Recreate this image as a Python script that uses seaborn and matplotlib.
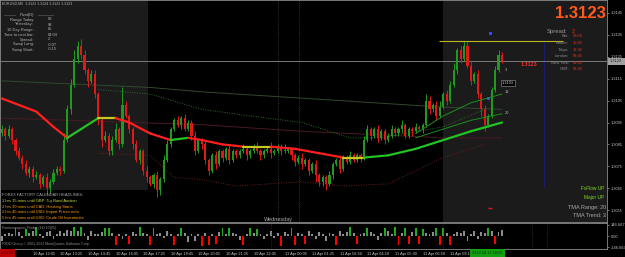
import numpy as np
import pandas as pd
import seaborn as sns
import matplotlib
matplotlib.use("Agg")
import matplotlib.pyplot as plt
from matplotlib.patches import Rectangle

# EURUSD M5 - 종가
first_open = 1.3090
closes = [
    1.3092, 1.3089, 1.3092, 1.3087, 1.3082, 1.3079, 1.3076, 1.3072, 1.3074, 1.3070,
    1.3071, 1.3067, 1.3070, 1.3065, 1.3068, 1.3072, 1.3074, 1.3073, 1.3087, 1.3101,
    1.3112, 1.3124, 1.3130, 1.3126, 1.3119, 1.3114, 1.3117, 1.3108, 1.3096, 1.3087,
    1.3089, 1.3082, 1.3087, 1.3092, 1.3085, 1.3103, 1.3098, 1.3092, 1.3085, 1.3078,
    1.3082, 1.3073, 1.3070, 1.3067, 1.3071, 1.3064, 1.3069, 1.3078, 1.3085, 1.3092,
    1.3096, 1.3094, 1.3097, 1.3092, 1.3095, 1.3089, 1.3082, 1.3087, 1.3085, 1.3078,
    1.3073, 1.3080, 1.3076, 1.3082, 1.3079, 1.3083, 1.3078, 1.3082, 1.3080, 1.3082,
    1.3083, 1.3080, 1.3082, 1.3084, 1.3082, 1.3080, 1.3082, 1.3083, 1.3081, 1.3082,
    1.3084, 1.3082, 1.3082, 1.3083, 1.3080, 1.3077, 1.3079, 1.3076, 1.3078, 1.3073,
    1.3076, 1.3071, 1.3068, 1.3070, 1.3067, 1.3071, 1.3076, 1.3078, 1.3074, 1.3079,
    1.3077, 1.3080, 1.3078, 1.3080, 1.3079, 1.3087, 1.3092, 1.3089, 1.3092, 1.3088,
    1.3091, 1.3087, 1.3089, 1.3092, 1.3090, 1.3092, 1.3094, 1.3089, 1.3092, 1.3091,
    1.3093, 1.3092, 1.3094, 1.3105, 1.3101, 1.3103, 1.3098, 1.3102, 1.3108, 1.3105,
    1.3112, 1.3119, 1.3128, 1.3124, 1.3130, 1.3121, 1.3114, 1.3117, 1.3108, 1.3101,
    1.3094, 1.3098, 1.3110, 1.3119, 1.3126, 1.3123,
]
# 꼬리 길이 (pip)
wick_up = [
    2, 1, 2, 1, 1, 2, 1, 2, 1, 1,
    2, 1, 1, 2, 1, 2, 1, 1, 3, 2,
    3, 4, 2, 3, 2, 1, 2, 2, 1, 1,
    2, 1, 2, 3, 1, 8, 2, 1, 1, 2,
    1, 1, 2, 1, 1, 2, 1, 2, 2, 1,
    1, 2, 1, 2, 1, 1, 2, 1, 1, 2,
    1, 1, 2, 1, 1, 1, 2, 1, 1, 1,
    2, 1, 1, 1, 2, 1, 1, 1, 3, 1,
    1, 1, 3, 1, 1, 1, 1, 2, 1, 1,
    1, 2, 1, 1, 1, 2, 1, 1, 2, 1,
    1, 2, 1, 1, 1, 2, 2, 1, 1, 2,
    1, 1, 1, 2, 1, 1, 2, 1, 1, 1,
    2, 1, 1, 3, 2, 1, 2, 3, 1, 2,
    2, 3, 1, 2, 2, 2, 2, 1, 2, 1,
    2, 1, 1, 2, 2, 1,
]
wick_dn = [
    1, 2, 1, 2, 2, 1, 2, 1, 2, 2,
    1, 2, 1, 3, 2, 1, 1, 2, 1, 1,
    2, 1, 2, 2, 2, 3, 1, 2, 2, 3,
    1, 2, 2, 1, 2, 1, 1, 2, 2, 1,
    2, 2, 2, 1, 2, 3, 2, 1, 1, 1,
    1, 1, 2, 1, 1, 2, 2, 1, 2, 2,
    2, 1, 2, 1, 2, 1, 2, 1, 1, 1,
    1, 2, 1, 1, 1, 2, 1, 1, 2, 1,
    1, 2, 1, 1, 2, 2, 1, 2, 1, 2,
    1, 3, 2, 2, 3, 1, 2, 1, 2, 1,
    1, 1, 1, 1, 2, 1, 1, 2, 1, 2,
    1, 2, 1, 1, 1, 1, 2, 1, 1, 2,
    1, 1, 2, 1, 2, 1, 2, 1, 1, 2,
    1, 1, 2, 2, 1, 1, 2, 1, 2, 3,
    3, 1, 1, 1, 1, 1,
]

# 굵은 이동평균 (색 = 방향)
ma_bars = [0, 5, 10, 15, 19, 23, 28, 33, 37, 43, 49, 54, 58, 64, 70, 78, 85, 92, 99, 105, 112, 120, 128, 136, 145]
ma_vals = [1.3106, 1.3103, 1.3100, 1.3093, 1.3088, 1.3092, 1.3097, 1.3097, 1.3095, 1.3090, 1.3087, 1.3088,
           1.3087, 1.3085, 1.3084, 1.3084, 1.3083, 1.3081, 1.3079, 1.3079, 1.3080, 1.3083, 1.3087, 1.3091, 1.3095]
# 밴드 / 보조선
upper_bars = [28, 43, 58, 72, 87, 101, 110, 128, 140]
upper_vals = [1.3110, 1.3108, 1.3101, 1.3098, 1.3095, 1.3088, 1.3088, 1.3093, 1.3101]
lower_bars = [28, 43, 50, 58, 68, 87, 99, 112, 128, 140]
lower_vals = [1.3081, 1.3080, 1.3070, 1.3069, 1.3066, 1.3068, 1.3066, 1.3067, 1.3079, 1.3085]
slow_bars = [0, 43, 58, 128, 145]
slow_vals = [1.3114, 1.3111, 1.3109, 1.3102, 1.3101]
mid_bars = [0, 58, 87, 128, 145]
mid_vals = [1.3097, 1.3094, 1.3091, 1.3088, 1.3088]
fast_bars = [120, 128, 136, 145]
ma13_vals = [1.3090, 1.3098, 1.3104, 1.3108]
ma20_vals = [1.3088, 1.3092, 1.3096, 1.3099]

day_high = 1.3132
last_price = 1.3123
price_ticks = [1.3055, 1.3065, 1.3075, 1.3085, 1.3095, 1.3105, 1.3115, 1.3125, 1.3135, 1.3145]

# 하단 지표 히스토그램
hist_vals = [
    -70, 30, 40, 20, 110, 50, -20, 95, 40, 60,
    120, 30, -30, 50, 70, -40, 20, 60, 40, 80,
    60, 125, 70, 115, 40, -50, 60, 30, 20, 50,
    110, 100, 40, -120, 30, -40, 20, -110, 50, 30,
    115, 40, 30, -125, 100, 20, 40, -30, 60, 20,
    -115, 30, 105, 40, -80, 30, -60, 20, -130, 40,
    -120, 30, -110, 50, 110, 20, 100, 40, 30, -50,
    -120, 20, 110, 40, 95, 30, -40, 20, 60, -30,
    40, -135, 50, 30, 105, -115, 40, 30, -100, 60,
    20, -40, 50, 30, -60, 40, 30, -125, 60, 30,
    50, 120, 40, -110, 30, 40, 110, 50, 30, -50,
    40, 105, 60, 30, 115, -120, 40, 100, -110, 50,
    110, -105, 95, 40, 30, 50, 100, -115, 110, 40,
    -120, 30, 50, 40, 60, -60, 30, 70, -40, 50,
    40, 110, 60, -100, 50, 80,
]

tick_bars = [9, 17, 25, 33, 41, 49, 57, 65, 73, 82, 90, 98, 106, 114, 122, 130]
tick_labels = ["10 Apr 12:05", "10 Apr 13:25", "10 Apr 14:45", "10 Apr 16:05", "10 Apr 17:25",
               "10 Apr 18:45", "10 Apr 20:05", "10 Apr 21:25", "10 Apr 22:45", "11 Apr 00:05",
               "11 Apr 01:25", "11 Apr 02:50", "11 Apr 04:10", "11 Apr 05:30", "11 Apr 06:50",
               "11 Apr 08:10"]

pivot_rows = [("Range Today:", "66"), ("Yesterday:", "98"), ("10 Day Range:", "85"),
              ("Time to next bar:", "04:04"), ("Spread:", "2"), ("Swap Long:", "-0.07"),
              ("Swap Short:", "-0.15")]
clock_rows = [("Bar:", "00:08"), ("Broker:", "10:45"), ("Tokyo:", "17:45"),
              ("London:", "09:45"), ("New York:", "04:45"), ("GMT:", "08:45")]
headlines = ["1 hrs 15 mins until GBP: 5-y Bond Auction",
             "3 hrs 30 mins until CAD: Housing Starts",
             "2 hrs 45 mins until USD: Import Prices m/m",
             "5 hrs 45 mins until USD: Crude Oil Inventories"]

# 스타일
sns.set_style("dark", {"axes.facecolor": "black", "figure.facecolor": "black",
                       "axes.edgecolor": "#8c8c8c", "grid.color": "black"})
plt.rcParams['font.family'] = ['Liberation Sans', 'DejaVu Sans']

W, H = 625, 257
fig = plt.figure(figsize=(W / 100, H / 100), dpi=100)


def box(x0, y0, x1, y1):
    return fig.add_axes([x0 / W, 1 - y1 / H, (x1 - x0) / W, (y1 - y0) / H])


def txt(x, y, s, **kw):
    kw.setdefault("va", "center")
    kw.setdefault("fontsize", 2.9)
    fig.text(x / W, 1 - y / H, s, **kw)


ax = box(0, 0, 607, 222)
axh = box(0, 223, 607, 249)
pip = 0.0001
px = 3.45  # 봉 하나 폭 (픽셀)
xmax = 607 / px - 0.5

ax.set_xlim(-0.5, xmax)
ax.set_ylim(1.30496, 1.31509)

# 세션 음영
ax.axvspan(-0.5, 148 / px - 0.5, ymin=32 / 222, ymax=1, color="#1b1b1b", lw=0, zorder=0)
ax.axvspan(443 / px - 0.5, xmax, color="#1b1b1b", lw=0, zorder=0)
for b in [80.1, 86.2]:
    ax.axvline(b, color="#5a5a5a", lw=0.5, ls=(0, (1, 2)), zorder=1)

# 보조선
sns.lineplot(x=slow_bars, y=slow_vals, ax=ax, color="#2f4a2f", lw=0.7, zorder=2)
sns.lineplot(x=mid_bars, y=mid_vals, ax=ax, color="#4a1a22", lw=0.7, zorder=2)
sns.lineplot(x=upper_bars, y=upper_vals, ax=ax, color="#2f6a2f", lw=0.7, ls=(0, (1, 1.5)), zorder=2)
sns.lineplot(x=lower_bars, y=lower_vals, ax=ax, color="#6a1f1f", lw=0.7, ls=(0, (1, 1.5)), zorder=2)

# 캔들
df = pd.DataFrame({"close": closes, "up": wick_up, "dn": wick_dn})
df["open"] = df["close"].shift(1).fillna(first_open)
df["top"] = df[["open", "close"]].max(axis=1)
df["bot"] = df[["open", "close"]].min(axis=1)
df["col"] = np.where(df["close"] >= df["open"], "#1f9a1f", "#e01818")
ax.vlines(df.index, df["bot"] - df["dn"] * pip, df["top"] + df["up"] * pip,
          colors=df["col"], lw=0.7, zorder=3)
ax.bar(df.index, (df["top"] - df["bot"]).clip(lower=0.3 * pip), bottom=df["bot"],
       width=0.62, color=df["col"], lw=0, zorder=3)

# 빠른 이평선
sns.lineplot(x=fast_bars, y=ma13_vals, ax=ax, color="#1c8f1c", lw=0.7, zorder=4)
sns.lineplot(x=fast_bars, y=ma20_vals, ax=ax, color="#1c8f1c", lw=0.7, zorder=4)

# 굵은 이동평균, 방향에 따라 색
for i in range(len(ma_bars) - 1):
    d = ma_vals[i + 1] - ma_vals[i]
    c = "#22c322" if d > 0 else ("#ff1f1f" if d < 0 else "#c8c820")
    sns.lineplot(x=ma_bars[i:i + 2], y=ma_vals[i:i + 2], ax=ax, color=c, lw=1.6, zorder=5)

# 수평/수직 선
ax.axhline(last_price, color="#8a8a8a", lw=0.6, zorder=2)
ax.hlines(day_high, 439 / px - 0.5, 563 / px - 0.5, color="#b8b820", lw=0.8, zorder=6)
ax.vlines(544 / px - 0.5, 1.30655, day_high, color="#1c1c6e", lw=0.8, zorder=1)
ax.plot([141.5], [1.3136], marker="s", ms=1.2, color="#3050ff", lw=0)
ax.plot([140.9], [1.3106], marker="s", ms=1.2, color="#3050ff", lw=0)
ax.plot([141.5], [1.3056], marker="_", ms=3, color="#e01818", lw=0)

ax.yaxis.tick_right()
ax.set_yticks(price_ticks)
ax.set_yticklabels([f"{p:.4f}" for p in price_ticks])
ax.tick_params(axis="y", colors="#c8c8c8", labelsize=2.8, length=1.5, pad=1, width=0.4)
ax.set_xticks([])
for s in ax.spines.values():
    s.set_color("#8c8c8c")
    s.set_linewidth(0.6)

# 하단 지표
axh.set_xlim(-0.5, xmax)
axh.set_ylim(-173.3, 173.3)
hcol = ["#22aa22" if v > 85 else ("#ff0000" if v < -85 else "#8c8c8c") for v in hist_vals]
axh.bar(range(len(hist_vals)), hist_vals, width=0.55, color=hcol, lw=0)
for b in [78.0, 128.0, 530 / px, 545 / px]:
    axh.axvline(b, color="#4a4a4a", lw=0.5, ls=(0, (1, 2)))
axh.yaxis.tick_right()
axh.set_yticks([146.667, 0, -146.667])
axh.set_yticklabels(["146.667", "0.00", "-146.667"])
axh.set_xticks(tick_bars)
axh.set_xticklabels(tick_labels, ha="left")
axh.tick_params(axis="both", colors="#c8c8c8", labelsize=2.8, length=1.5, pad=1, width=0.4)
for s in axh.spines.values():
    s.set_color("#8c8c8c")
    s.set_linewidth(0.6)

# 텍스트
gray = "#b4b4b4"
txt(2, 4, "EURUSD,M5  1.3123 1.3124 1.3123 1.3123", color=gray, fontsize=2.6)
txt(4, 15, "———", color=gray, fontsize=2.9)
txt(27, 15, "Pivot(D)", color=gray, ha="center")
txt(38, 15, "————", color=gray, fontsize=2.9)
for k, (lab, val) in enumerate(pivot_rows):
    y = 19.5 + 5 * k
    txt(34, y, lab, color=gray, ha="right")
    txt(48, y, val, color=gray)

txt(606, 14, "1.3123", color="#ff5a1a", fontsize=12, fontweight="bold", ha="right")
txt(567, 32, "Spread:", color="#9a9a9a", fontsize=4.2, ha="right")
txt(572, 31.5, "2", color="#e03020", fontsize=4.2)
for k, (lab, val) in enumerate(clock_rows):
    y = 36.5 + 6.6 * k
    txt(569, y, lab, color="#8c8c8c", ha="right")
    txt(573, y, val, color="#e03020")

txt(521, 64, "1.3123", color="#ff2a2a", fontsize=4.0, fontweight="bold")
txt(505, 70, "3", color=gray)
txt(502, 83, "1.3103", color="#d0d0d0", fontsize=2.8,
    bbox=dict(boxstyle="square,pad=0.25", fc="black", ec="#9a9a9a", lw=0.4))
txt(505, 92, "13", color=gray)
txt(505, 113, "20", color=gray)

txt(604, 188, "FxFlow UP", color="#80e020", fontsize=3.4, ha="right")
txt(604, 197, "Major UP", color="#80e020", fontsize=3.4, ha="right")
txt(606, 207, "TMA Range: 20", color="#a8a8a8", fontsize=4.0, ha="right")
txt(606, 215.5, "TMA Trend: 3", color="#a8a8a8", fontsize=4.0, ha="right")

txt(2, 195, "FOREX FACTORY CALENDAR HEADLINES:", color="#a8a8a8")
for k, line in enumerate(headlines):
    txt(2, 201 + 5.7 * k, line, color="#c8e050" if k == 0 else "#ffa010")
txt(278, 219, "Wednesday", color="#a8a8a8", fontsize=4.0, ha="center")
txt(2, 228, "Fantasmagoric Finder (14) 10(05)", color="#8c8c8c", fontsize=2.6)
txt(2, 244, "FXDD Group © 2001-2011 MetaQuotes Software Corp.", color="#8c8c8c", fontsize=2.6)

# 현재가 표시 상자
fig.patches.append(Rectangle((608 / W, 1 - 64.5 / H), 17 / W, 6 / H, transform=fig.transFigure,
                             color="#a0a0a0", lw=0))
txt(610, 61.5, "1.3123", color="#202020", fontsize=2.8)

# 시간축 상자
fig.patches.append(Rectangle((0, 0), 15 / W, 8 / H, transform=fig.transFigure, color="#c00000", lw=0))
txt(1, 253, "2013.04.10", color="#400000", fontsize=2.6)
fig.patches.append(Rectangle((470 / W, 0), 35 / W, 8 / H, transform=fig.transFigure, color="#12a012", lw=0))
txt(472, 253, "2013.04.11 10:05", color="#063006", fontsize=2.8)

plt.savefig("out.png", dpi=100, facecolor="black")
